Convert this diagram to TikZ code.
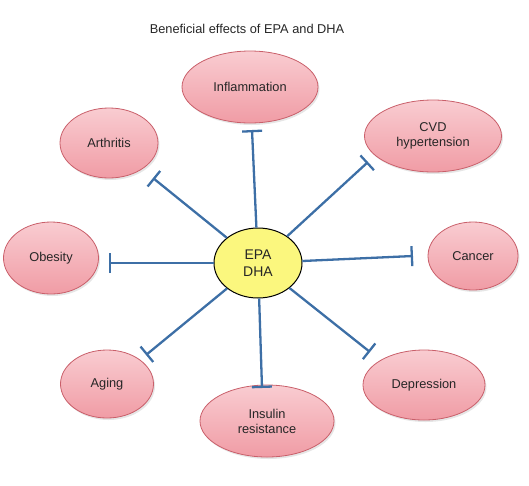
\documentclass[tikz,border=0pt]{standalone}
\usepackage{fontspec}
\setmainfont{Liberation Sans}
\usepackage{xcolor}
\usepackage{tikz}
\usetikzlibrary{arrows.meta, positioning, shapes.geometric, shadows}

\definecolor{effpink}{HTML}{F09CA5}
\definecolor{efftop}{HTML}{F9CCD1}
\definecolor{effrim}{HTML}{C95F6A}
\definecolor{epayel}{HTML}{FBF77E}
\definecolor{inhblue}{HTML}{3D6FA6}
\definecolor{txtgray}{HTML}{262626}

\begin{document}
\begin{tikzpicture}[x=1pt, y=-1pt,
  effect/.style = {ellipse, draw=effrim, line width=0.8pt, align=center,
                   inner sep=0pt, top color=efftop, bottom color=effpink,
                   text=txtgray, font=\fontsize{12.8}{15}\selectfont,
                   drop shadow={opacity=0.2, shadow xshift=1.5pt, shadow yshift=-2pt}},
  source/.style = {ellipse, draw=black, line width=1pt, fill=epayel,
                   align=center, inner sep=0pt, text=txtgray,
                   font=\fontsize{14}{17}\selectfont,
                   minimum width=88pt, minimum height=70pt},
  inhibit/.style = {draw=inhblue, line width=2.3pt,
                    -{Bar[width=20pt, line width=2.3pt]}}
]
\useasboundingbox (0,0) rectangle (529,485);

%% Title
\node[text=txtgray, font=\fontsize{12.8}{15}\selectfont] (title) at (247,29)
  {Beneficial effects of EPA and DHA};

%% --- Centre ---
\node[source] (epa) at (258,263) {EPA\\DHA};

%% --- Effects ---
\node[effect, minimum width=136pt, minimum height=72pt] (infl) at (250,87)  {Inflammation};
\node[effect, minimum width=98pt,  minimum height=70pt] (arth) at (109,143) {Arthritis};
\node[effect, minimum width=137pt, minimum height=72pt] (cvd)  at (433,136) {CVD\\hypertension};
\node[effect, minimum width=95pt,  minimum height=72pt] (obes) at (51,258)  {Obesity};
\node[effect, minimum width=90pt,  minimum height=68pt] (canc) at (473,256) {Cancer};
\node[effect, minimum width=93pt,  minimum height=68pt] (aging) at (107,384) {Aging};
\node[effect, minimum width=134pt, minimum height=72pt] (insr) at (267,421) {Insulin\\resistance};
\node[effect, minimum width=122pt, minimum height=70pt] (depr) at (424,385) {Depression};

%% --- Inhibition ends ---
\coordinate (barInfl)  at (252,130);
\coordinate (barArth)  at (153,178);
\coordinate (barCvd)   at (368,162);
\coordinate (barObes)  at (109,263);
\coordinate (barCanc)  at (413,256);
\coordinate (barAging) at (146,355);
\coordinate (barInsr)  at (262,388);
\coordinate (barDepr)  at (370,352);

%% --- Connectors ---
\draw[inhibit] (epa) -- (barInfl);
\draw[inhibit] (epa) -- (barArth);
\draw[inhibit] (epa) -- (barCvd);
\draw[inhibit] (epa) -- (barObes);
\draw[inhibit] (epa) -- (barCanc);
\draw[inhibit] (epa) -- (barAging);
\draw[inhibit] (epa) -- (barInsr);
\draw[inhibit] (epa) -- (barDepr);
\end{tikzpicture}
\end{document}
